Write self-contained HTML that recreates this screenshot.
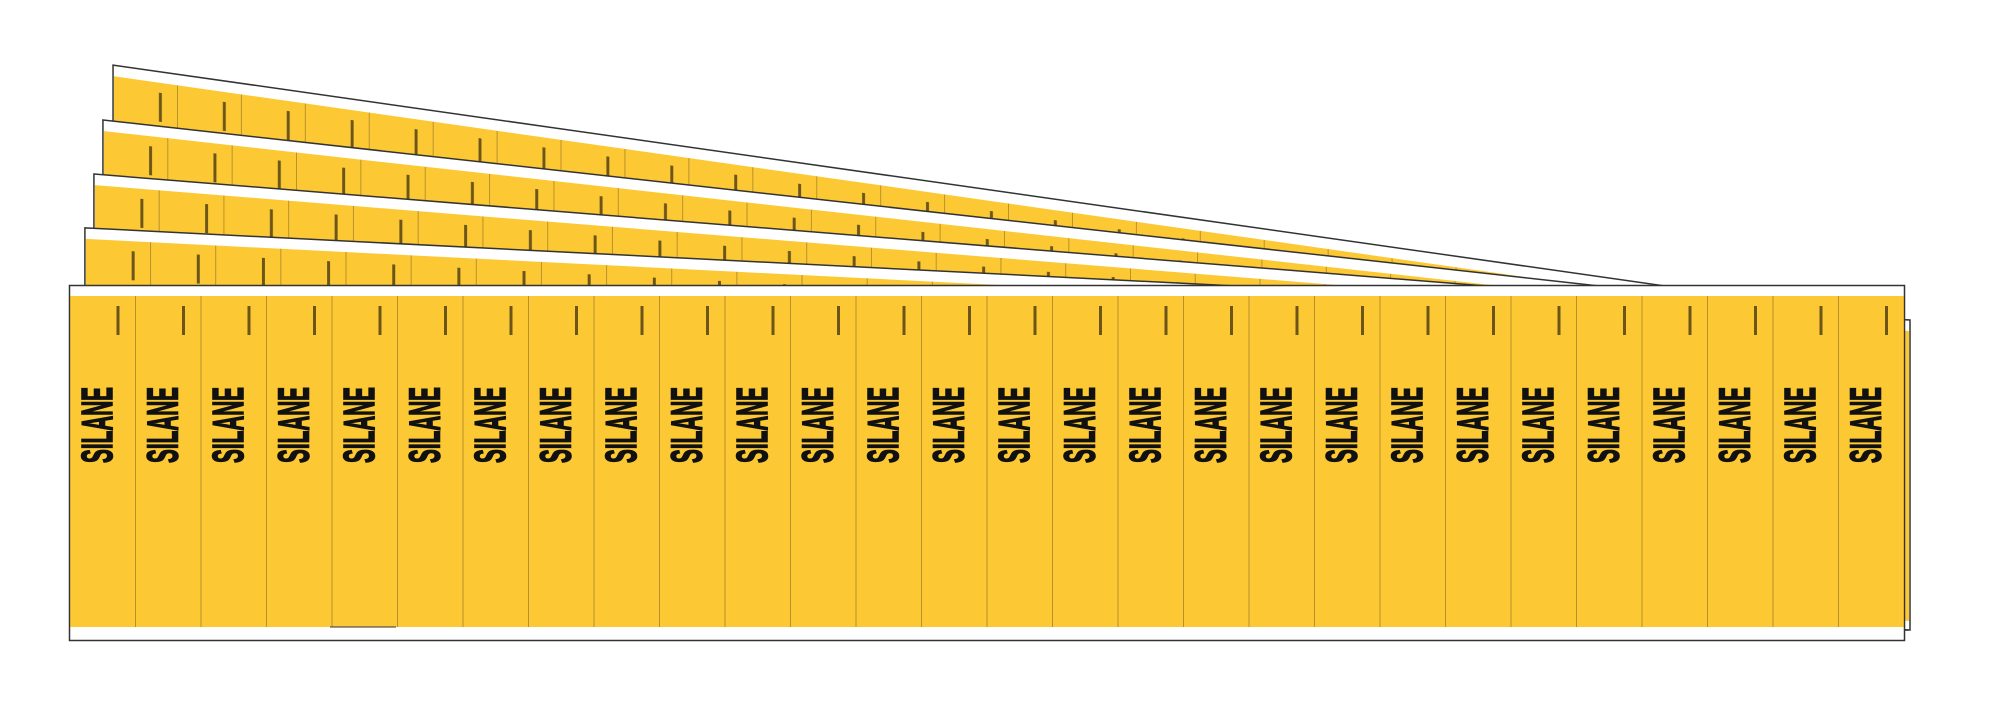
<!DOCTYPE html>
<html><head><meta charset="utf-8"><style>
html,body{margin:0;padding:0;background:#fff;overflow:hidden;}
svg{display:block;}
.s{font-family:"Liberation Sans Narrow","Liberation Sans",sans-serif;font-weight:bold;font-size:44px;fill:#111;stroke:#111;stroke-width:1.6px;}
</style></head><body>
<svg width="2000" height="710" viewBox="0 0 2000 710" xmlns="http://www.w3.org/2000/svg">
<defs>
<pattern id="pb" patternUnits="userSpaceOnUse" x="-1835" y="0" width="65.5" height="400">
<rect x="0" y="0" width="65.5" height="400" fill="#fcc934"/>
<line x1="0.5" y1="0" x2="0.5" y2="400" stroke="#b8912c" stroke-width="1"/>
<rect x="47" y="21" width="3" height="29" fill="#3a2f10" opacity="0.75"/>
</pattern>
<pattern id="pf" patternUnits="userSpaceOnUse" x="69.5" y="0" width="65.5" height="710">
<rect x="0" y="0" width="65.5" height="710" fill="#fcc934"/>
<line x1="0.5" y1="0" x2="0.5" y2="710" stroke="#b8912c" stroke-width="1"/>
<rect x="47" y="306" width="3" height="29" fill="#3a2f10" opacity="0.75"/>
</pattern>
</defs>

<g transform="translate(1904,320) skewY(8.1) scale(0.976,1)">
<rect x="-1835" y="0" width="1835" height="310" fill="#fff" stroke="#333" stroke-width="1.5" vector-effect="non-scaling-stroke"/>
<rect x="-1834" y="11" width="1833" height="290" fill="url(#pb)"/>
</g>
<g transform="translate(1906,320) skewY(6.33) scale(0.9826,1)">
<rect x="-1835" y="0" width="1835" height="310" fill="#fff" stroke="#333" stroke-width="1.5" vector-effect="non-scaling-stroke"/>
<rect x="-1834" y="11" width="1833" height="290" fill="url(#pb)"/>
</g>
<g transform="translate(1908,320) skewY(4.6) scale(0.9886,1)">
<rect x="-1835" y="0" width="1835" height="310" fill="#fff" stroke="#333" stroke-width="1.5" vector-effect="non-scaling-stroke"/>
<rect x="-1834" y="11" width="1833" height="290" fill="url(#pb)"/>
</g>
<g transform="translate(1910,320) skewY(2.89) scale(0.9946,1)">
<rect x="-1835" y="0" width="1835" height="310" fill="#fff" stroke="#333" stroke-width="1.5" vector-effect="non-scaling-stroke"/>
<rect x="-1834" y="11" width="1833" height="290" fill="url(#pb)"/>
</g>

<rect x="69.5" y="285.5" width="1835" height="355" fill="#fff" stroke="#333" stroke-width="1.5"/>
<rect x="70" y="296" width="1834" height="331" fill="url(#pf)"/>

<g class="s" text-anchor="middle">
<text transform="translate(112,425) rotate(-90)" textLength="76" lengthAdjust="spacingAndGlyphs">SILANE</text>
<text transform="translate(177.5,425) rotate(-90)" textLength="76" lengthAdjust="spacingAndGlyphs">SILANE</text>
<text transform="translate(243,425) rotate(-90)" textLength="76" lengthAdjust="spacingAndGlyphs">SILANE</text>
<text transform="translate(308.5,425) rotate(-90)" textLength="76" lengthAdjust="spacingAndGlyphs">SILANE</text>
<text transform="translate(374,425) rotate(-90)" textLength="76" lengthAdjust="spacingAndGlyphs">SILANE</text>
<text transform="translate(439.5,425) rotate(-90)" textLength="76" lengthAdjust="spacingAndGlyphs">SILANE</text>
<text transform="translate(505,425) rotate(-90)" textLength="76" lengthAdjust="spacingAndGlyphs">SILANE</text>
<text transform="translate(570.5,425) rotate(-90)" textLength="76" lengthAdjust="spacingAndGlyphs">SILANE</text>
<text transform="translate(636,425) rotate(-90)" textLength="76" lengthAdjust="spacingAndGlyphs">SILANE</text>
<text transform="translate(701.5,425) rotate(-90)" textLength="76" lengthAdjust="spacingAndGlyphs">SILANE</text>
<text transform="translate(767,425) rotate(-90)" textLength="76" lengthAdjust="spacingAndGlyphs">SILANE</text>
<text transform="translate(832.5,425) rotate(-90)" textLength="76" lengthAdjust="spacingAndGlyphs">SILANE</text>
<text transform="translate(898,425) rotate(-90)" textLength="76" lengthAdjust="spacingAndGlyphs">SILANE</text>
<text transform="translate(963.5,425) rotate(-90)" textLength="76" lengthAdjust="spacingAndGlyphs">SILANE</text>
<text transform="translate(1029,425) rotate(-90)" textLength="76" lengthAdjust="spacingAndGlyphs">SILANE</text>
<text transform="translate(1094.5,425) rotate(-90)" textLength="76" lengthAdjust="spacingAndGlyphs">SILANE</text>
<text transform="translate(1160,425) rotate(-90)" textLength="76" lengthAdjust="spacingAndGlyphs">SILANE</text>
<text transform="translate(1225.5,425) rotate(-90)" textLength="76" lengthAdjust="spacingAndGlyphs">SILANE</text>
<text transform="translate(1291,425) rotate(-90)" textLength="76" lengthAdjust="spacingAndGlyphs">SILANE</text>
<text transform="translate(1356.5,425) rotate(-90)" textLength="76" lengthAdjust="spacingAndGlyphs">SILANE</text>
<text transform="translate(1422,425) rotate(-90)" textLength="76" lengthAdjust="spacingAndGlyphs">SILANE</text>
<text transform="translate(1487.5,425) rotate(-90)" textLength="76" lengthAdjust="spacingAndGlyphs">SILANE</text>
<text transform="translate(1553,425) rotate(-90)" textLength="76" lengthAdjust="spacingAndGlyphs">SILANE</text>
<text transform="translate(1618.5,425) rotate(-90)" textLength="76" lengthAdjust="spacingAndGlyphs">SILANE</text>
<text transform="translate(1684,425) rotate(-90)" textLength="76" lengthAdjust="spacingAndGlyphs">SILANE</text>
<text transform="translate(1749.5,425) rotate(-90)" textLength="76" lengthAdjust="spacingAndGlyphs">SILANE</text>
<text transform="translate(1815,425) rotate(-90)" textLength="76" lengthAdjust="spacingAndGlyphs">SILANE</text>
<text transform="translate(1880.5,425) rotate(-90)" textLength="76" lengthAdjust="spacingAndGlyphs">SILANE</text>
</g>
<line x1="330" y1="627" x2="396" y2="627" stroke="#333" stroke-width="1"/>
</svg>
</body></html>
